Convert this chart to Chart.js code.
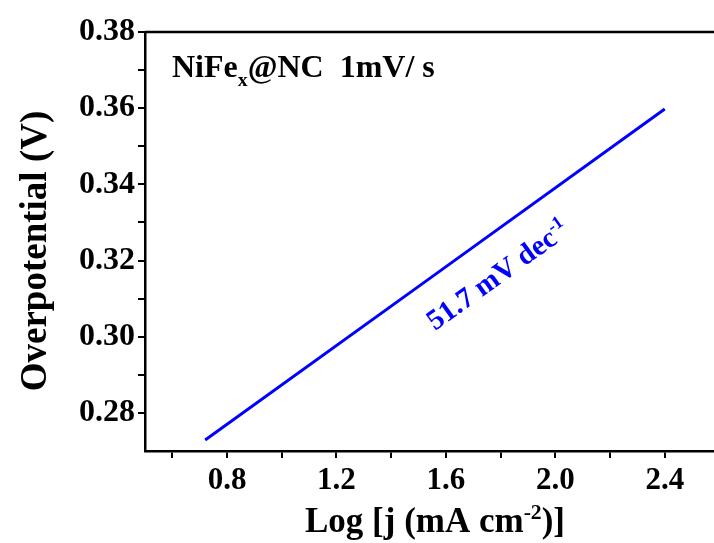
<!DOCTYPE html>
<html>
<head>
<meta charset="utf-8">
<script src="https://cdn.jsdelivr.net/npm/chart.js@4"></script>
<style>
  html, body { margin: 0; padding: 0; background: #fff; }
  #wrap { width: 714px; height: 543px; position: relative; }
</style>
</head>
<body>
<div id="wrap"><canvas id="myChart"></canvas></div>
<script>
// data
const logJ = [0.72, 1.56, 2.40];
const overpotential = [0.2729, 0.3163, 0.3598];
const xTicks = [0.6, 0.8, 1.0, 1.2, 1.4, 1.6, 1.8, 2.0, 2.2, 2.4];
const xLabels = ["", "0.8", "", "1.2", "", "1.6", "", "2.0", "", "2.4"];
const yTicks = [0.28, 0.29, 0.30, 0.31, 0.32, 0.33, 0.34, 0.35, 0.36, 0.37, 0.38];
const yLabels = ["0.28", "", "0.30", "", "0.32", "", "0.34", "", "0.36", "", "0.38"];
const slopeText = "51.7 mV dec";

const serif = "'Liberation Serif', 'Times New Roman', serif";

// draw a run of text parts, some raised or lowered
function richText(ctx, parts, x, y, size, align) {
  let w = 0;
  parts.forEach(p => {
    ctx.font = "bold " + (p.sup || p.sub ? size * 0.62 : size) + "px " + serif;
    p.w = ctx.measureText(p.t).width;
    w += p.w;
  });
  let cx = align === "center" ? x - w / 2 : x;
  parts.forEach(p => {
    ctx.font = "bold " + (p.sup || p.sub ? size * 0.62 : size) + "px " + serif;
    let dy = p.sup ? -size * 0.38 : (p.sub ? size * 0.28 : 0);
    ctx.fillText(p.t, cx, y + dy);
    cx += p.w;
  });
}

const textPlugin = {
  id: "texts",
  afterDraw(chart) {
    const ctx = chart.ctx;
    const area = chart.chartArea;
    const xs = chart.scales.x, ys = chart.scales.y;
    ctx.save();
    ctx.fillStyle = "#000";
    ctx.textBaseline = "alphabetic";
    ctx.textAlign = "left";

    // top border
    ctx.strokeStyle = "#000";
    ctx.lineWidth = 2.5;
    ctx.beginPath();
    ctx.moveTo(area.left, area.top);
    ctx.lineTo(chart.width, area.top);
    ctx.stroke();

    // label inside the plot
    richText(ctx, [{t: "NiFe"}, {t: "x", sub: true}, {t: "@NC  1mV/ s"}], area.left + 27, area.top + 45, 32, "left");

    // x title
    richText(ctx, [{t: "Log [j (mA cm"}, {t: "-2", sup: true}, {t: ")]"}], 435, 532, 35, "center");

    // y title
    ctx.save();
    ctx.translate(46, 251);
    ctx.rotate(-Math.PI / 2);
    richText(ctx, [{t: "Overpotential (V)"}], 0, 0, 37, "center");
    ctx.restore();

    // slope label along the line
    const x0 = xs.getPixelForValue(logJ[0]), y0 = ys.getPixelForValue(overpotential[0]);
    const x1 = xs.getPixelForValue(logJ[2]), y1 = ys.getPixelForValue(overpotential[2]);
    const ang = Math.atan2(y1 - y0, x1 - x0);
    const px = xs.getPixelForValue(1.71), py = ys.getPixelForValue(0.3241);
    ctx.save();
    ctx.translate(px, py);
    ctx.rotate(ang);
    ctx.fillStyle = "#0000ff";
    richText(ctx, [{t: slopeText}, {t: "-1", sup: true}], 0, 46, 29, "center");
    ctx.restore();

    ctx.restore();
  }
};

const ctx = document.getElementById("myChart");

let chart = new Chart(ctx, {
  type: "line",
  data: {
    datasets: [{
      label: "Tafel",
      data: logJ.map((v, i) => ({x: v, y: overpotential[i]})),
      borderColor: "#0000ff",
      borderWidth: 3,
      pointRadius: 0,
      fill: false
    }]
  },
  options: {
    animation: false,
    responsive: true,
    maintainAspectRatio: false,
    layout: { padding: { left: 0, top: 32, right: 0, bottom: 0 } },
    plugins: { legend: { display: false }, tooltip: { enabled: false } },
    scales: {
      x: {
        type: "linear",
        min: 0.5,
        max: 2.58,
        afterBuildTicks: s => { s.ticks = xTicks.map(v => ({value: v})); },
        afterFit: s => { s.height = 92; },
        ticks: {
          callback: (v, i) => xLabels[i],
          color: "#000",
          font: { family: serif, size: 31, weight: "bold" },
          padding: 4,
          maxRotation: 0,
          autoSkip: false
        },
        grid: { drawOnChartArea: false, color: "#000", lineWidth: 2, tickLength: 7 },
        border: { color: "#000", width: 2.5 }
      },
      y: {
        min: 0.27,
        max: 0.38,
        afterBuildTicks: s => { s.ticks = yTicks.map(v => ({value: v})); },
        afterFit: s => { s.width = 145; },
        ticks: {
          callback: (v, i) => yLabels[i],
          color: "#000",
          font: { family: serif, size: 32, weight: "bold" },
          padding: 3,
          autoSkip: false
        },
        grid: { drawOnChartArea: false, color: "#000", lineWidth: 2, tickLength: 7 },
        border: { color: "#000", width: 2.5 }
      }
    }
  },
  plugins: [textPlugin]
});
</script>
</body>
</html>
